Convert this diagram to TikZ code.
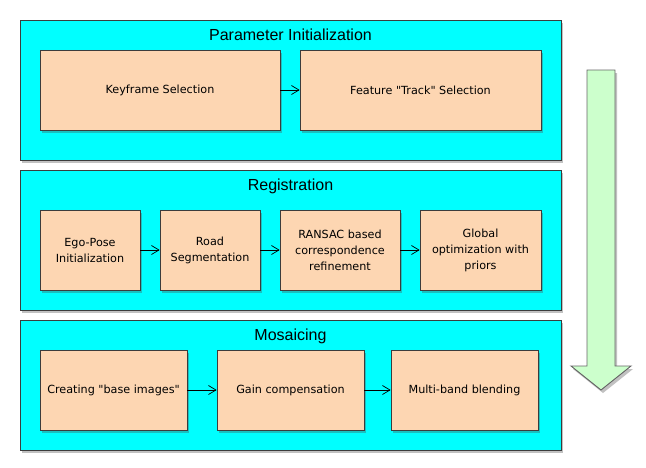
\documentclass[tikz,border=0pt]{standalone}
\usepackage{fontspec}
\setmainfont{DejaVu Sans}[Ligatures=TeXOff]
\newfontfamily\titlefont{Liberation Sans}
\usetikzlibrary{shadows,arrows.meta}
\definecolor{peach}{RGB}{253,214,178}
\definecolor{aqua}{RGB}{0,255,255}
\definecolor{mint}{RGB}{204,255,204}
\definecolor{edge}{RGB}{60,60,60}
\tikzset{
  x=1pt,y=-1pt,
  shad/.style={drop shadow={shadow xshift=2pt,shadow yshift=-3pt,opacity=0.35,fill=black!70}},
  group/.style={draw=edge,line width=0.8pt,fill=aqua,shad},
  stepbox/.style={draw=edge,line width=0.8pt,fill=peach,shad,align=center,inner sep=0pt,
    minimum height=80pt,font=\fontsize{11.2}{16}\selectfont},
  gtitle/.style={font=\titlefont\fontsize{16}{18}\selectfont},
  conn/.style={line width=0.7pt,-{Straight Barb[length=7.5pt,width=9pt]}}
}
\begin{document}
\begin{tikzpicture}
\useasboundingbox (0,0) rectangle (646,467);
% group boxes
\path[group] (20,20) rectangle (561,160);
\node[gtitle] (t1) at (290.5,35) {Parameter Initialization};
\path[group] (20,170) rectangle (561,310);
\node[gtitle] (t2) at (290.5,186) {Registration};
\path[group] (20,320) rectangle (561,450);
\node[gtitle] (t3) at (290.5,336) {Mosaicing};
% steps
\node[stepbox,minimum width=240pt] (ksel) at (160,90) {Keyframe Selection};
\node[stepbox,minimum width=241pt] (fsel) at (420.5,90) {Feature "Track" Selection};
\draw[conn] (ksel) -- (fsel);

\node[stepbox,minimum width=100pt] (ego) at (90,250) {Ego-Pose\\Initialization};
\node[stepbox,minimum width=100pt] (road) at (210,250) {Road\\Segmentation};
\node[stepbox,minimum width=120pt] (ransac) at (340,250) {RANSAC based\\correspondence\\refinement};
\node[stepbox,minimum width=121pt] (glob) at (480.5,250) {Global\\optimization with\\priors};
\draw[conn] (ego) -- (road);
\draw[conn] (road) -- (ransac);
\draw[conn] (ransac) -- (glob);

\node[stepbox,minimum width=147pt] (base) at (113.5,390) {Creating "base images"};
\node[stepbox,minimum width=147pt] (gain) at (290.5,390) {Gain compensation};
\node[stepbox,minimum width=147pt] (multi) at (464.5,390) {Multi-band blending};
\draw[conn] (base) -- (gain);
\draw[conn] (gain) -- (multi);

% big arrow
\path[draw=gray!80!black,line width=0.9pt,fill=mint,shad]
  (587,70) -- (615,70) -- (615,366) -- (631,366) -- (601,390) -- (571,366) -- (587,366) -- cycle;
\end{tikzpicture}
\end{document}
